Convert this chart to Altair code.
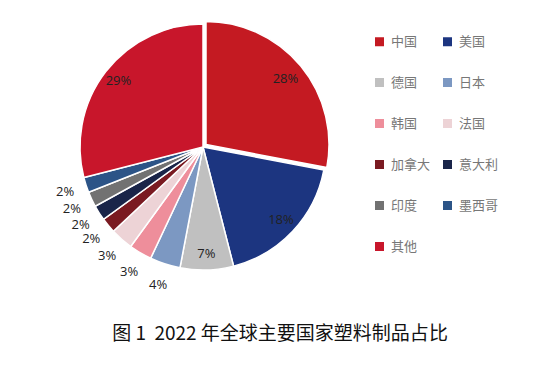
import altair as alt
import pandas as pd

countries = ["中国", "美国", "德国", "日本", "韩国", "法国", "加拿大", "意大利", "印度", "墨西哥", "其他"]
shares = [28, 18, 7, 4, 3, 3, 2, 2, 2, 2, 29]
colors = ["#C41A22", "#1C3580", "#C0C0C0", "#7C98C2", "#EE8E9B", "#EDD3D6",
          "#7A1A21", "#1A2549", "#727272", "#2C5487", "#C8162B"]

df = pd.DataFrame({
    "country": countries,
    "share": shares,
    "idx": list(range(len(countries))),
})
df["label"] = df["share"].astype(str) + "%"

CX, CY, R = 195, 139, 123

color = alt.Color(
    "country:N",
    scale=alt.Scale(domain=countries, range=colors),
    legend=alt.Legend(
        title=None, orient="none", legendX=365, legendY=27, columns=2,
        direction="horizontal",
        symbolType="square", symbolSize=81, symbolStrokeWidth=0,
        labelFontSize=13, labelColor="#777777", labelFont="Noto Sans CJK SC",
        rowPadding=27, columnPadding=10, labelOffset=5,
    ),
)

base = alt.Chart(df).encode(
    theta=alt.Theta("share:Q", stack=True),
    order=alt.Order("idx:Q"),
)

pie = base.mark_arc(outerRadius=R, stroke="white", strokeWidth=1.5).encode(
    color=color,
    x=alt.value(CX), y=alt.value(CY),
    opacity=alt.condition("datum.country == '中国'", alt.value(0), alt.value(1)),
)

china = base.mark_arc(outerRadius=R, stroke="white", strokeWidth=1.5).encode(
    color=color,
    x=alt.value(CX + 3), y=alt.value(CY - 2.5),
    opacity=alt.condition("datum.country == '中国'", alt.value(1), alt.value(0)),
)

inner = base.mark_text(radius=107, fontSize=13, font="Open Sans", color="#222222").encode(
    text="label:N",
    x=alt.value(CX), y=alt.value(CY),
    opacity=alt.condition("datum.share >= 5", alt.value(1), alt.value(0)),
)

outer = base.mark_text(radius=145, fontSize=13, font="Open Sans", color="#222222").encode(
    text="label:N",
    x=alt.value(CX), y=alt.value(CY),
    opacity=alt.condition("datum.share < 5", alt.value(1), alt.value(0)),
)

chart = alt.layer(pie, china, inner, outer).properties(
    width=528, height=305,
    padding=0,
    background="white",
    title=alt.TitleParams(
        "图 1\u00a0\u00a02022 年全球主要国家塑料制品占比",
        orient="bottom", anchor="middle", fontSize=19, fontWeight="normal",
        font="Noto Sans CJK SC", color="#111111", offset=12, dx=8,
    ),
).configure_view(stroke=None)

chart.save("out.html", embed_options={"renderer": "svg", "actions": False})
